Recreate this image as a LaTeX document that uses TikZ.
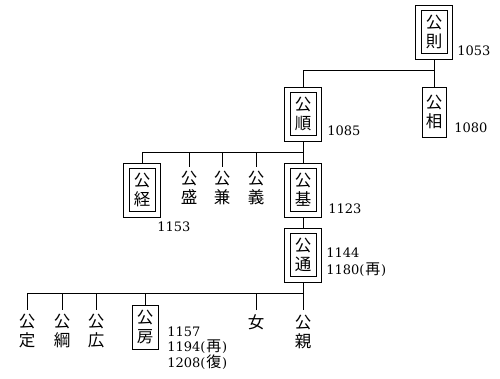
\documentclass[tikz,border=0pt]{standalone}
\usepackage{fontspec}
\usetikzlibrary{fit}
\setmainfont{DejaVu Serif}
\newfontfamily\cjk{Noto Sans CJK JP}
\newcommand{\re}[1]{(\kern0.8pt{\cjk\fontsize{15}{15}\selectfont #1}\kern0.8pt)}
\begin{document}
\begin{tikzpicture}[x=1pt,y=-1pt,line width=0.75pt,
  every node/.style={inner sep=0pt},
  kj/.style={font=\cjk\fontsize{16.5}{19}\selectfont, align=center},
  ibox/.style={kj, draw, line width=0.75pt, minimum width=26pt, minimum height=43pt},
  obox/.style={draw, line width=0.75pt, inner xsep=5pt, inner ysep=5pt},
  sbox/.style={kj, draw, line width=0.75pt, minimum width=24pt, minimum height=50pt},
  yr/.style={font=\fontsize{13}{15}\selectfont, anchor=base west},
  tick/.style={shorten <=4pt}]
\useasboundingbox (0,0) rectangle (500,378);
% persons
\node[ibox] (ku-i)  at (434,32)  {公\\則};
\node[obox, fit=(ku-i)] (ku) {};
\node[sbox] (sho) at (434,112) {公\\相};
\node[ibox] (jun-i) at (303,114) {公\\順};
\node[obox, fit=(jun-i)] (jun) {};
\node[ibox] (kei-i) at (142,190) {公\\経};
\node[obox, fit=(kei-i)] (kei) {};
\node[kj]   (sei) at (189,188) {公\\盛};
\node[kj]   (ken) at (222,188) {公\\兼};
\node[kj]   (gi)  at (256,188) {公\\義};
\node[ibox] (ki-i)  at (303,190) {公\\基};
\node[obox, fit=(ki-i)] (ki) {};
\node[ibox] (tsu-i) at (303,255) {公\\通};
\node[obox, fit=(tsu-i)] (tsu) {};
\node[kj]   (sada)  at (27,331) {公\\定};
\node[kj]   (tsuna) at (62,331) {公\\綱};
\node[kj]   (hiro)  at (96,331) {公\\広};
\node[sbox, minimum width=26pt, minimum height=44pt] (fusa) at (145,327) {公\\房};
\node[kj]   (onna)  at (256,322) {女};
\node[kj]   (chika) at (303,332) {公\\親};
% junctions
\coordinate (j1) at (434,70);
\coordinate (j2) at (303,152);
\coordinate (j3) at (303,293);
% connectors
\draw (ku.south) -- (sho.north);
\draw (jun.north) |- (j1);
\draw (jun.south) -- (ki.north);
\draw (kei.north) |- (j2);
\draw[tick] (sei.north) -- (sei.north |- j2);
\draw[tick] (ken.north) -- (ken.north |- j2);
\draw[tick] (gi.north) -- (gi.north |- j2);
\draw (ki.south) -- (tsu.north);
\draw[shorten >=5pt] (tsu.south) -- (chika.north);
\draw[tick] (sada.north) |- (j3);
\draw[tick] (tsuna.north) -- (tsuna.north |- j3);
\draw[tick] (hiro.north) -- (hiro.north |- j3);
\draw (fusa.north) -- (fusa.north |- j3);
\draw[tick] (onna.north) -- (onna.north |- j3);
% years
\node[yr] (y1053) at (457,55) {1053};
\node[yr] (y1080) at (454,132) {1080};
\node[yr] (y1085) at (327,135) {1085};
\node[yr] (y1123) at (328,213) {1123};
\node[yr] (y1153) at (157,231) {1153};
\node[yr] (y1144) at (326,257) {1144};
\node[yr] (y1180) at (326,274) {1180\re{再}};
\node[yr] (y1157) at (167,336) {1157};
\node[yr] (y1194) at (167,351.5) {1194\re{再}};
\node[yr] (y1208) at (167,367) {1208\re{復}};
\end{tikzpicture}
\end{document}
